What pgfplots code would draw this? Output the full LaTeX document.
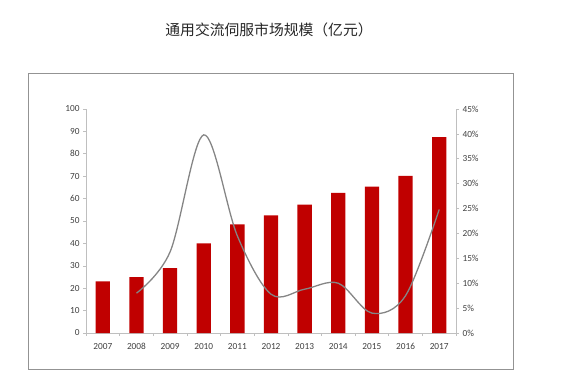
\documentclass[border=0pt]{standalone}
\usepackage{pgfplots}
\pgfplotsset{compat=1.18}
\usepackage{fontspec}
\setmainfont{Carlito}
\newfontfamily\cjk{Noto Sans CJK SC}
\definecolor{barred}{HTML}{C00000}
\definecolor{linegray}{HTML}{858585}
\definecolor{axgray}{HTML}{BFBFBF}
\definecolor{txtgray}{HTML}{404040}
\begin{document}
\begin{tikzpicture}[x=1pt,y=1pt]
\useasboundingbox (0,0) rectangle (583,380);
\draw[color=gray!85, line width=0.8pt] (28,11) rectangle (513,307);
\node[font=\cjk\fontsize{14.8}{16}\selectfont, text=black!85] at (269,350) {通用交流伺服市场规模（亿元）};
\pgfplotsset{
  every axis/.append style={
    scale only axis, width=370pt, height=224pt,
    at={(86pt,47pt)}, anchor=south west,
    xmin=-0.5, xmax=10.5,
    tick label style={font=\fontsize{9.3}{10}\selectfont, text=txtgray},
    /pgf/number format/assume math mode=true,
    axis line style={axgray, line width=0.6pt},
    tick style={axgray, line width=0.6pt},
    major tick length=3pt, minor tick length=3pt,
    tick align=outside,
  }
}
\begin{axis}[
  axis x line*=bottom, axis y line*=left,
  ymin=0, ymax=100, ytick={0,10,...,100},
  xtick={0,...,10},
  xticklabels={2007,2008,2009,2010,2011,2012,2013,2014,2015,2016,2017},
  major x tick style={draw=none},
  minor xtick={-0.5,0.5,...,10.5},
  xticklabel style={yshift=-4pt},
]
\addplot[ybar, bar width=14.3pt, fill=barred, draw=none] coordinates {
(0,23) (1,25) (2,29) (3,40) (4,48.5) (5,52.5) (6,57.3) (7,62.6) (8,65.3) (9,70.2) (10,87.4)};
\end{axis}
\begin{axis}[
  axis x line=none, axis y line*=right,
  ymin=0, ymax=45, ytick={0,5,...,45},
  yticklabel={\pgfmathprintnumber{\tick}\%},
]
\addplot[linegray, line width=1.3pt, smooth, tension=0.55] coordinates {
(1,8.0) (2,16.3) (3,39.8) (4,19.5) (5,7.8) (6,8.8) (7,10.0) (8,4.0) (9,7.5) (10,24.8)};
\end{axis}
\end{tikzpicture}
\end{document}
